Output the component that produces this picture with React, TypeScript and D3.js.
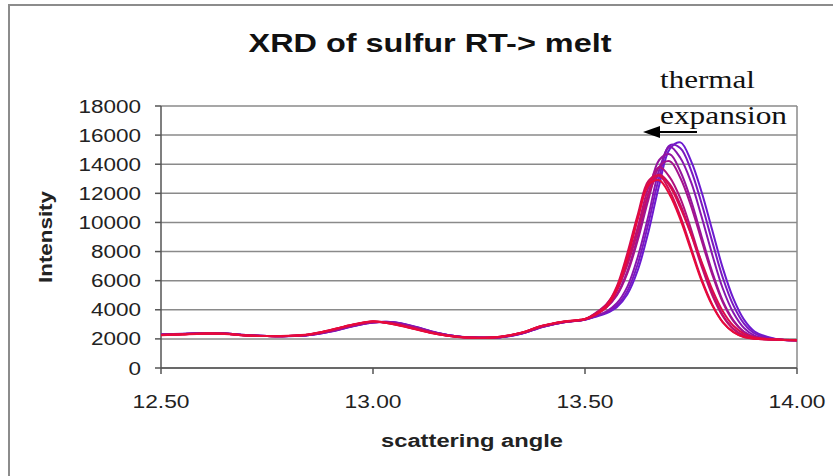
import React, { useEffect, useRef } from "react";
import * as d3 from "d3";

// Scattering angles (degrees) at which intensities were recorded
const angles = [
  12.5, 12.55, 12.6, 12.65, 12.7, 12.75, 12.8, 12.85, 12.9, 12.95, 13.0, 13.05, 13.1, 13.15, 13.2,
  13.25, 13.3, 13.35, 13.4, 13.45, 13.5,
  13.525, 13.55, 13.575, 13.6, 13.625, 13.65, 13.675, 13.7, 13.725, 13.75, 13.775, 13.8, 13.825,
  13.85, 13.875, 13.9, 13.95, 14.0,
];

// Intensity scans, from room temperature (first) towards the melt (last)
const scan1 = [2300, 2340, 2390, 2360, 2250, 2190, 2180, 2260, 2500, 2850, 3120, 3150, 2830, 2430, 2170, 2090, 2110, 2350, 2820, 3140, 3320,
  3520, 3760, 4180, 5070, 6770, 9400, 12560, 15050, 15500, 14230, 12090, 9480, 6860, 4760, 3320, 2510, 1990, 1900];
const scan2 = [2300, 2350, 2390, 2370, 2260, 2200, 2190, 2270, 2510, 2860, 3130, 3140, 2820, 2420, 2160, 2080, 2110, 2360, 2830, 3150, 3330,
  3550, 3820, 4300, 5300, 7200, 10000, 13100, 15300, 15100, 13600, 11300, 8700, 6200, 4300, 3050, 2380, 1970, 1900];
const scan3 = [2290, 2340, 2380, 2370, 2250, 2200, 2190, 2270, 2520, 2870, 3140, 3120, 2800, 2410, 2160, 2080, 2120, 2370, 2840, 3150, 3330,
  3575, 3874, 4446, 5591, 7682, 10520, 13607, 15200, 14428, 12784, 10393, 7803, 5462, 3793, 2747, 2229, 1950, 1900];
const scan4 = [2280, 2330, 2380, 2370, 2260, 2200, 2190, 2280, 2540, 2890, 3150, 3100, 2780, 2400, 2160, 2080, 2120, 2380, 2860, 3160, 3340,
  3700, 4170, 5040, 6660, 9080, 11990, 14290, 14690, 13500, 11520, 9040, 6610, 4610, 3280, 2490, 2130, 1950, 1900];
const scan5 = [2280, 2330, 2380, 2370, 2250, 2200, 2190, 2280, 2550, 2900, 3150, 3080, 2750, 2380, 2150, 2080, 2120, 2380, 2850, 3150, 3330,
  3690, 4150, 4980, 6520, 8840, 11620, 13820, 14200, 13050, 11140, 8760, 6430, 4510, 3220, 2470, 2120, 1950, 1900];
const scan6 = [2270, 2330, 2370, 2360, 2250, 2200, 2200, 2290, 2570, 2920, 3170, 3060, 2730, 2370, 2150, 2080, 2130, 2400, 2870, 3170, 3350,
  3780, 4370, 5410, 7270, 9740, 12420, 13800, 13100, 11650, 9540, 7200, 5140, 3630, 2700, 2220, 2040, 1950, 1900];
const scan7 = [2270, 2320, 2370, 2360, 2240, 2200, 2200, 2300, 2580, 2930, 3170, 3040, 2710, 2360, 2140, 2070, 2130, 2400, 2880, 3170, 3350,
  3760, 4330, 5320, 7090, 9440, 11990, 13300, 12630, 11230, 9210, 6980, 5010, 3560, 2670, 2210, 2030, 1950, 1900];
const scan8 = [2260, 2320, 2370, 2350, 2240, 2190, 2200, 2300, 2600, 2950, 3190, 3020, 2690, 2350, 2140, 2070, 2140, 2420, 2900, 3180, 3360,
  3700, 4300, 5600, 7900, 10600, 12870, 13200, 12150, 10410, 8260, 6100, 4370, 3160, 2470, 2130, 2010, 1950, 1900];
const scan9 = [2260, 2310, 2360, 2350, 2240, 2190, 2200, 2310, 2610, 2960, 3200, 3000, 2670, 2340, 2130, 2070, 2140, 2420, 2900, 3180, 3360,
  3650, 4150, 5300, 7500, 10300, 12700, 13250, 12500, 11000, 9200, 7300, 5400, 3900, 2900, 2350, 2100, 1960, 1900];
const scan10 = [2250, 2310, 2360, 2340, 2230, 2190, 2210, 2320, 2620, 2970, 3210, 2990, 2660, 2330, 2130, 2060, 2150, 2430, 2910, 3190, 3370,
  3680, 4250, 5500, 7700, 10400, 12590, 12900, 11880, 10190, 8090, 5990, 4300, 3130, 2460, 2120, 2010, 1950, 1900];

const scans = [scan1, scan2, scan3, scan4, scan5, scan6, scan7, scan8, scan9, scan10];

const yTicks = [0, 2000, 4000, 6000, 8000, 10000, 12000, 14000, 16000, 18000];
const xTicks = [12.5, 13.0, 13.5, 14.0];

const title = "XRD of sulfur RT-> melt";
const xTitle = "scattering angle";
const yTitle = "Intensity";
const noteLines = ["thermal", "expansion"];

export default function App() {
  const ref = useRef<SVGSVGElement>(null);

  useEffect(() => {
    const svg = d3.select(ref.current);
    svg.selectAll("*").remove();

    const x = d3.scaleLinear().domain([12.5, 14.0]).range([161, 797]);
    const y = d3.scaleLinear().domain([0, 18000]).range([368, 106]);
    const sans = "'Liberation Sans', Arial, sans-serif";
    const serif = "'Liberation Serif', 'Times New Roman', serif";

    svg.append("rect").attr("width", 833).attr("height", 476).attr("fill", "#fff");

    // chart frame
    svg.append("rect")
      .attr("x", 9).attr("y", 5).attr("width", 900).attr("height", 600)
      .attr("fill", "none").attr("stroke", "#8c8c8c").attr("stroke-width", 2);

    // horizontal gridlines
    svg.append("g").selectAll("line").data(yTicks).join("line")
      .attr("x1", x(12.5)).attr("x2", x(14.0))
      .attr("y1", (d) => y(d)).attr("y2", (d) => y(d))
      .attr("stroke", "#8a8a8a").attr("stroke-width", 1.5);

    // plot-area right border
    svg.append("line")
      .attr("x1", x(14.0)).attr("x2", x(14.0)).attr("y1", y(18000)).attr("y2", y(0))
      .attr("stroke", "#8a8a8a").attr("stroke-width", 1.5);

    // y axis
    svg.append("line")
      .attr("x1", x(12.5)).attr("x2", x(12.5)).attr("y1", y(18000)).attr("y2", y(0))
      .attr("stroke", "#555").attr("stroke-width", 1.5);
    svg.append("g").selectAll("line").data(yTicks).join("line")
      .attr("x1", x(12.5) - 6).attr("x2", x(12.5))
      .attr("y1", (d) => y(d)).attr("y2", (d) => y(d))
      .attr("stroke", "#555").attr("stroke-width", 1.5);
    svg.append("g").selectAll("text").data(yTicks).join("text")
      .attr("x", 141).attr("y", (d) => y(d) + 6.5)
      .attr("text-anchor", "end")
      .attr("font-family", sans).attr("font-size", 18).attr("fill", "#222")
      .attr("textLength", (d) => String(d).length * 12.5)
      .attr("lengthAdjust", "spacingAndGlyphs")
      .text((d) => String(d));

    // x axis
    svg.append("line")
      .attr("x1", x(12.5)).attr("x2", x(14.0)).attr("y1", y(0)).attr("y2", y(0))
      .attr("stroke", "#555").attr("stroke-width", 1.5);
    svg.append("g").selectAll("line").data(xTicks).join("line")
      .attr("x1", (d) => x(d)).attr("x2", (d) => x(d))
      .attr("y1", y(0)).attr("y2", y(0) + 6)
      .attr("stroke", "#555").attr("stroke-width", 1.5);
    svg.append("g").selectAll("text").data(xTicks).join("text")
      .attr("x", (d) => x(d)).attr("y", 408)
      .attr("text-anchor", "middle")
      .attr("font-family", sans).attr("font-size", 18).attr("fill", "#222")
      .attr("textLength", 57)
      .attr("lengthAdjust", "spacingAndGlyphs")
      .text((d) => d.toFixed(2));

    // scans
    const colour = d3.interpolateRgb("#6c1ad0", "#e80a3a");
    const line = d3.line<number>()
      .x((_, i) => x(angles[i]))
      .y((d) => y(d))
      .curve(d3.curveCatmullRom.alpha(0.5));
    svg.append("g").selectAll("path").data(scans).join("path")
      .attr("d", (d) => line(d))
      .attr("fill", "none")
      .attr("stroke", (_, i) => colour(i / (scans.length - 1)))
      .attr("stroke-width", 2);

    // titles
    svg.append("text")
      .attr("x", 430).attr("y", 52).attr("text-anchor", "middle")
      .attr("font-family", sans).attr("font-weight", "bold").attr("font-size", 25)
      .attr("fill", "#111")
      .attr("textLength", 363).attr("lengthAdjust", "spacingAndGlyphs")
      .text(title);
    svg.append("text")
      .attr("x", 472).attr("y", 447).attr("text-anchor", "middle")
      .attr("font-family", sans).attr("font-weight", "bold").attr("font-size", 18)
      .attr("fill", "#222")
      .attr("textLength", 182).attr("lengthAdjust", "spacingAndGlyphs")
      .text(xTitle);
    svg.append("text")
      .attr("transform", "translate(52,237) rotate(-90)")
      .attr("text-anchor", "middle")
      .attr("font-family", sans).attr("font-weight", "bold").attr("font-size", 18)
      .attr("fill", "#222")
      .attr("textLength", 92).attr("lengthAdjust", "spacingAndGlyphs")
      .text(yTitle);

    // annotation
    svg.append("text")
      .attr("x", 660).attr("y", 88)
      .attr("font-family", serif).attr("font-size", 26).attr("fill", "#111")
      .attr("textLength", 95).attr("lengthAdjust", "spacingAndGlyphs")
      .text(noteLines[0]);
    svg.append("text")
      .attr("x", 660).attr("y", 124)
      .attr("font-family", serif).attr("font-size", 26).attr("fill", "#111")
      .attr("textLength", 127).attr("lengthAdjust", "spacingAndGlyphs")
      .text(noteLines[1]);
    svg.append("line")
      .attr("x1", 655).attr("x2", 697).attr("y1", 132).attr("y2", 132)
      .attr("stroke", "#000").attr("stroke-width", 2);
    svg.append("path")
      .attr("d", "M643,132 L660,126 L660,138 Z")
      .attr("fill", "#000");
  }, []);

  return (
    <svg
      ref={ref}
      width={833}
      height={476}
      style={{ position: "fixed", left: 0, top: 0, display: "block" }}
    />
  );
}
